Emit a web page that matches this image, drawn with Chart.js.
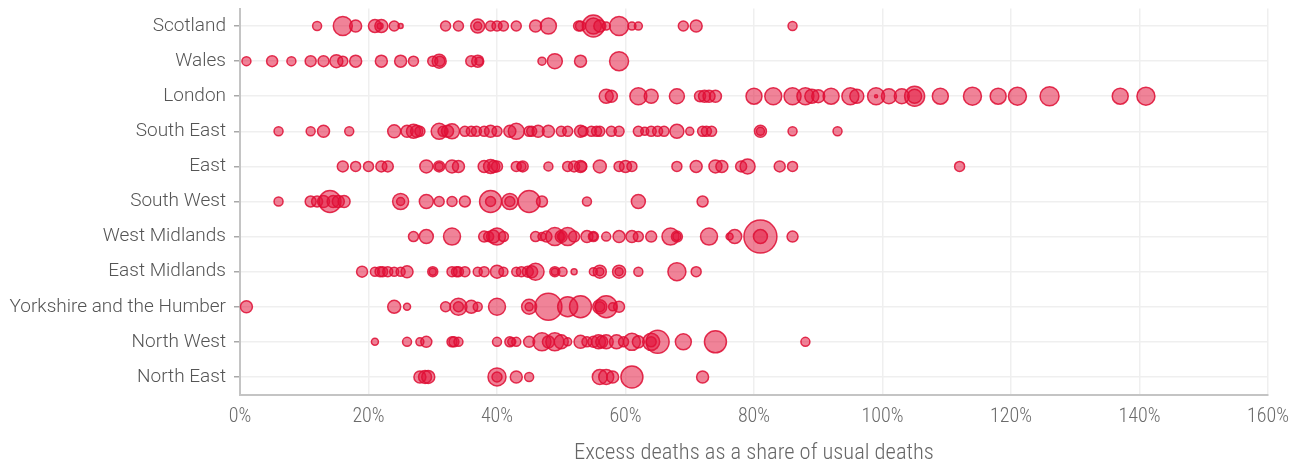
<!DOCTYPE html>
<html>
<head>
<meta charset="utf-8">
<script src="https://cdn.jsdelivr.net/npm/chart.js@4"></script>
<style>
html,body{margin:0;padding:0;background:#fff;}
canvas{display:block;}
</style>
</head>
<body>
<canvas id="c" width="1311" height="467"></canvas>
<script>
const regions = ["Scotland","Wales","London","South East","East","South West","West Midlands","East Midlands","Yorkshire and the Humber","North West","North East"];
const xTicks = [0,20,40,60,80,100,120,140,160];
const axisTitle = "Excess deaths as a share of usual deaths";

// Excess deaths (% of usual) per local area, and bubble size (radius)
const scotlandX = [12,16,18,21,21.8,22,24,25,32,34,37,37,39,40,41,43,46,48,52.7,53,55,55,56,57,59,61,62,69,71,86];
const scotlandR = [4.5,9.5,6,6.5,3,6.5,5,2.5,5,5,7,4,5,5,5,5,6,8,5,5,11,8,6,4,9.5,4,4,5,6,4.5];

const walesX = [1,5,8,11,13,15,16,18,22,25,27,30,31,31.1,36,37,37.2,47,49,53,59];
const walesR = [4.5,5.5,4.5,5.5,5.5,6.5,5,6,6,6,5,5,7,5,5.5,6,4,4,7.5,6,9.5];

const londonX = [57,57.8,62,64,68,71.6,72.3,73,74,80,83,86,88,89,90,92,95,96,99,99,101,103,105,105,109,114,118,121,126,137,141];
const londonR = [7,6,8.5,7,7.5,5.5,6,6,6,8,8.5,8.5,8.5,7,6.5,8,8.5,7,8.5,1.5,7.5,7.5,10,7,8,9,8,9,9.5,8,9];

const southEastX = [6,11,13,17,24,26,27,27.5,28,31,31.6,32.3,33,35,36,36.8,38,39,40,42,43,45,45.4,46.4,48,50,51,53,53.4,54.7,55.5,56,57.8,59,62,63,64,65,66,68,70,72,72.6,73.4,81,81,86,93];
const southEastR = [4.5,4.5,6,4.5,6.5,6,7,6,5,8,5,6,7.5,5,5,5,5,6,5,6,8,5,5,6,6,5,5,6,5,5,5,5,5,5,5,4,5,5,5,7,4,5,5,5,6,4,4.5,4.5];

const eastX = [16,18,20,22,23,29,31,31,33,34,38,39,39.5,40,43,43.8,44,48,51,52,53,53.2,56,59,60,61,68,71,74,75,78,79,84,86,112];
const eastR = [5.5,5,5,5.5,5.5,6.5,5.5,4,6.5,6,6,7,6,5.5,5,4.5,5.5,4.5,5,5.5,6,5,6.5,5,6,5,5,6,6.5,6,5.5,7.5,5.5,5,5];

const southWestX = [6,11,12,13,14,14.5,15.3,16.2,25,25,29,31,33,35,39,39,42,42,45,47,54,62,72];
const southWestR = [4.5,5.5,5.5,6,11,6,6,6,8,4,7,5,5,5.5,11,5,8,5,11,5.5,4.5,7,5.5];

const westMidlandsX = [27,29,33,38,38.7,39.4,40,41,46,47,47.7,49,50,50,51,52,54,55,55,57,59,61,62,64,67,68,68,73,76.2,77,81,81,86];
const westMidlandsR = [5,7,8.5,5.5,5,6.5,8.5,5,5,4,5.5,9,6,4,9,5.5,6,5,4,4.5,6,6,5,5.5,8.5,5.5,4,8.5,3.5,7,16.5,7,5.5];

const eastMidlandsX = [19,21,21.8,22.2,23,24,25,26,30,30,33,33.7,34,35,37,38,40,41,43,43.8,44.8,45.4,46,49,49,50.2,52,55,56,56,59,59,62,68,71];
const eastMidlandsR = [5.5,4.5,5,5,5,4.5,4.5,6,5,3.5,5,5,5,5,4.5,5,6.5,4.5,4.5,5,5.5,6,8.5,5,3.5,4.5,3,4,6.5,4,6.5,4,4.5,9,5];

const yorkshireX = [1,24,26,32,34,34,36,37,40,45,45,48,51,53,56,56,57,58,59];
const yorkshireR = [6,6.5,3.5,5,8.5,5,6.5,4.5,8.5,7.5,4,13.5,10,11,7,5,11,4,5.5];

const northWestX = [21,26,28,29,33,33.3,34,40,42,42.3,43,45,47,48,49,50,51,53,54,55,55.8,56.3,57,58.6,59.7,61,62,64,64,65,69,74,88];
const northWestR = [3.5,4.5,4,5.5,5,5,4.5,4.5,5,4,4.5,5.5,9,6,9,7,4,6.5,5,5.5,7,6,7,7,5,8.5,6,8.5,5,11.5,8,11,4.5];

const northEastX = [28,28.8,29.3,40,40,43,45,56,57,58,61,72];
const northEastR = [6,6.5,6.5,9,5,6,4.5,7.5,7.5,6,11,6];

const series = [
  [scotlandX, scotlandR], [walesX, walesR], [londonX, londonR], [southEastX, southEastR],
  [eastX, eastR], [southWestX, southWestR], [westMidlandsX, westMidlandsR],
  [eastMidlandsX, eastMidlandsR], [yorkshireX, yorkshireR], [northWestX, northWestR],
  [northEastX, northEastR]
];

const points = [];
series.forEach(([xs, rs], i) => {
  xs.forEach((x, j) => points.push({x: x, y: regions[i], r: rs[j]}));
});

const condensed = "'Roboto Condensed', Roboto, sans-serif";
new Chart(document.getElementById('c'), {
  type: 'bubble',
  data: {
    datasets: [{
      data: points,
      backgroundColor: 'rgba(226,18,58,0.52)',
      borderColor: 'rgba(222,14,52,0.85)',
      borderWidth: 1.5,
      clip: false
    }]
  },
  options: {
    responsive: false,
    animation: false,
    devicePixelRatio: 1,
    layout: {autoPadding: false, padding: {top: 8.5, right: 43, left: 0, bottom: 0}},
    plugins: {legend: {display: false}, tooltip: {enabled: false}},
    scales: {
      x: {
        type: 'linear', min: 0, max: 160,
        afterBuildTicks: s => { s.ticks = xTicks.map(v => ({value: v})); },
        ticks: {callback: v => v + '%', font: {family: condensed, size: 20, weight: 300}, color: '#6b6b6b', padding: 10, maxRotation: 0},
        grid: {color: '#efefef', lineWidth: 1.5, drawTicks: false},
        border: {color: '#c4c4c4', width: 2},
        title: {display: true, text: axisTitle, font: {family: condensed, size: 22.5, weight: 300}, color: '#666', padding: {top: 0, bottom: 0}},
        afterFit: s => { s.height = 72.5; }
      },
      y: {
        type: 'category', labels: regions, offset: true,
        ticks: {font: {family: "Roboto, 'Liberation Sans', sans-serif", size: 19, weight: 300}, color: '#555', padding: 8},
        grid: {color: '#efefef', lineWidth: 1.5, tickColor: '#a8a8a8', tickLength: 6},
        border: {color: '#c4c4c4', width: 2},
        afterFit: s => { s.width = 240; s.paddingTop = 0; s.paddingBottom = 0; }
      }
    }
  }
});
</script>
</body>
</html>
